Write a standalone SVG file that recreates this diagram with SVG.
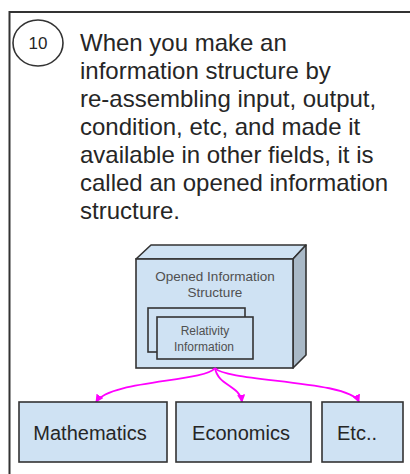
<svg xmlns="http://www.w3.org/2000/svg" width="410" height="474" viewBox="0 0 410 474">
<style>
.main{font-family:"Liberation Sans",Arial,sans-serif;font-size:24px;fill:#262626}
.box{fill:#cfe2f3;stroke:#333;stroke-width:1.6}
.lbl{font-family:"Liberation Sans",Arial,sans-serif;font-size:20px;fill:#262626;text-anchor:middle}
.in{font-family:"Liberation Sans",Arial,sans-serif;fill:#505050;text-anchor:middle}
.con{fill:none;stroke:#ff00ff;stroke-width:1.8;marker-end:url(#ah)}
</style>
<defs>
<marker id="ah" viewBox="0 0 10 10" refX="9" refY="5" markerWidth="4.5" markerHeight="4.5" orient="auto" markerUnits="strokeWidth">
<path d="M0,0 L10,5 L0,10 z" fill="#ff00ff"/>
</marker>
</defs>
<rect x="0" y="0" width="410" height="474" fill="#fff"/>
<rect id="frame" x="9.5" y="12" width="430" height="480" fill="none" stroke="#333" stroke-width="2"/>
<g id="step">
<ellipse cx="38" cy="43" rx="25" ry="23" fill="none" stroke="#333" stroke-width="1.6"/>
<text x="38" y="49" font-family="Liberation Sans,Arial,sans-serif" font-size="17" fill="#262626" text-anchor="middle">10</text>
</g>
<g id="description">
<text class="main" x="80" y="51">When you make an</text>
<text class="main" x="80" y="79">information structure by</text>
<text class="main" x="80" y="107">re-assembling input, output,</text>
<text class="main" x="80" y="135">condition, etc, and made it</text>
<text class="main" x="80" y="163">available in other fields, it is</text>
<text class="main" x="80" y="191">called an opened information</text>
<text class="main" x="80" y="219">structure.</text>
</g>
<g id="opened">
<polygon points="136,259 151,245 306,245 293,259" fill="#cfe2f3" stroke="#333" stroke-width="1.6" stroke-linejoin="round"/>
<polygon points="293,259 306,245 306,355 293,368" fill="#a9b9c7" stroke="#333" stroke-width="1.6" stroke-linejoin="round"/>
<rect class="box" x="136" y="259" width="157" height="109"/>
<text class="in" x="215" y="281" font-size="13.5">Opened Information</text>
<text class="in" x="215" y="297" font-size="13.5">Structure</text>
</g>
<g id="relativity">
<rect class="box" x="148" y="308" width="97" height="44"/>
<rect class="box" x="157" y="317" width="96" height="42"/>
<text class="in" x="205" y="335" font-size="12">Relativity</text>
<text class="in" x="204" y="351" font-size="12">Information</text>
</g>
<g id="connectors">
<path class="con" d="M215,368 C205,382 110,380 96,402"/>
<path class="con" d="M215,368 C218,386 240,385 242,402"/>
<path class="con" d="M215,368 C226,382 350,380 359,402"/>
</g>
<g id="mathematics">
<rect class="box" x="19" y="402" width="148" height="60"/>
<text class="lbl" x="90" y="440">Mathematics</text>
</g>
<g id="economics">
<rect class="box" x="176" y="402" width="135" height="60"/>
<text class="lbl" x="241" y="440">Economics</text>
</g>
<g id="etc">
<rect class="box" x="322" y="402" width="81" height="60"/>
<text class="lbl" x="357" y="440">Etc..</text>
</g>
</svg>
